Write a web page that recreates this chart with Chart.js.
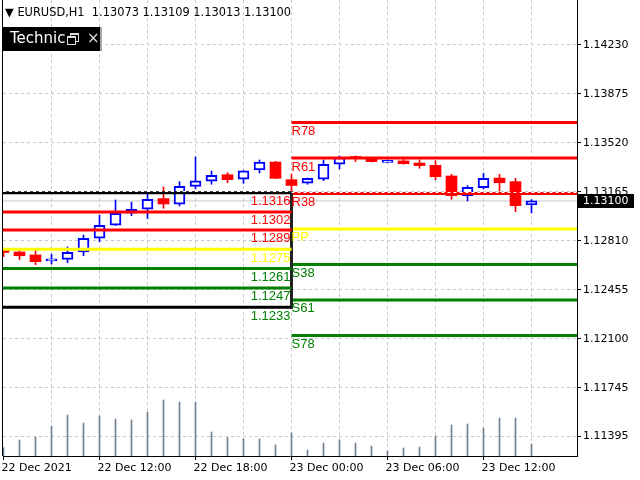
<!DOCTYPE html>
<html>
<head>
<meta charset="utf-8">
<title>EURUSD,H1</title>
<script src="https://cdn.jsdelivr.net/npm/chart.js@4.4.1/dist/chart.umd.min.js"></script>
<style>
  html, body { margin: 0; padding: 0; background: #fff; }
  #wrap { position: relative; width: 640px; height: 480px; overflow: hidden; }
  #chart { position: absolute; left: 0; top: 0; }
  #head { position: absolute; left: 5px; top: 5px; font: 11.4px "DejaVu Sans", sans-serif; color: #000; white-space: pre; line-height: 14px; }
  #tech { position: absolute; left: 3px; top: 27px; width: 97px; height: 24px; background: #000; border-right: 2px solid #a8a8a8; }
  #tech .name { position: absolute; left: 7px; top: 1px; width: 55px; overflow: hidden; white-space: nowrap; color: #fff; font: 15px "DejaVu Sans", sans-serif; line-height: 21px; }
  #tech .sq1 { position: absolute; left: 67px; top: 6px; width: 7px; height: 6px; border: 1px solid #ddd; border-top-width: 2px; }
  #tech .sq2 { position: absolute; left: 64px; top: 9px; width: 7px; height: 6px; border: 1px solid #ddd; border-top-width: 2px; background: #000; }
  #tech .close { position: absolute; left: 84px; top: 1px; color: #ddd; font: 15px "DejaVu Sans", sans-serif; line-height: 21px; }
</style>
</head>
<body>
<div id="wrap">
  <canvas id="chart" width="640" height="480"></canvas>
  <div id="head">▼ EURUSD,H1  1.13073 1.13109 1.13013 1.13100</div>
  <div id="tech"><span class="name">Technical Indicators</span><span class="sq1"></span><span class="sq2"></span><span class="close">×</span></div>
</div>
<script>
// H1 bars, 22 Dec 06:00 .. 23 Dec 15:00
const opens  = [1.12749, 1.12730, 1.12709, 1.12666, 1.12677, 1.12730, 1.12830, 1.12924, 1.13011, 1.13040, 1.13117, 1.13076,
                1.13206, 1.13243, 1.13290, 1.13257, 1.13324, 1.13382, 1.13254, 1.13228, 1.13257, 1.13366, 1.13419, 1.13402,
                1.13380, 1.13390, 1.13375, 1.13358, 1.13281, 1.13138, 1.13196, 1.13266, 1.13240, 1.13073];
const highs  = [1.12759, 1.12743, 1.12745, 1.12714, 1.12767, 1.12853, 1.12998, 1.13107, 1.13091, 1.13154, 1.13201, 1.13240,
                1.13419, 1.13317, 1.13305, 1.13321, 1.13397, 1.13386, 1.13295, 1.13266, 1.13397, 1.13426, 1.13426, 1.13415,
                1.13397, 1.13404, 1.13397, 1.13392, 1.13293, 1.13211, 1.13300, 1.13293, 1.13264, 1.13109];
const lows   = [1.12696, 1.12675, 1.12638, 1.12643, 1.12653, 1.12703, 1.12805, 1.12922, 1.12993, 1.12972, 1.13047, 1.13064,
                1.13187, 1.13221, 1.13232, 1.13228, 1.13303, 1.13262, 1.13150, 1.13221, 1.13247, 1.13332, 1.13385, 1.13382,
                1.13379, 1.13366, 1.13337, 1.13254, 1.13112, 1.13100, 1.13187, 1.13172, 1.13022, 1.13013];
const closes = [1.12727, 1.12703, 1.12660, 1.12668, 1.12728, 1.12830, 1.12924, 1.13011, 1.13040, 1.13112, 1.13078, 1.13206,
                1.13245, 1.13286, 1.13254, 1.13319, 1.13382, 1.13264, 1.13212, 1.13264, 1.13366, 1.13414, 1.13407, 1.13385,
                1.13392, 1.13370, 1.13356, 1.13276, 1.13138, 1.13199, 1.13264, 1.13232, 1.13066, 1.13100];
const volumes = [210, 400, 475, 750, 1025, 825, 1000, 925, 900, 1100, 1400, 1350, 1350, 600, 460, 430, 430, 275,
                 575, 150, 325, 400, 325, 250, 125, 200, 225, 500, 775, 800, 700, 950, 950, 300];

const timeLabels = ['22 Dec 2021', '22 Dec 12:00', '22 Dec 18:00', '23 Dec 00:00', '23 Dec 06:00', '23 Dec 12:00'];
const timeLabelBars = [0, 6, 12, 18, 24, 30];
const gridBars = [0, 3, 6, 9, 12, 15, 18, 21, 24, 27, 30, 33];
const priceTicks = [1.14230, 1.13875, 1.13520, 1.13165, 1.12810, 1.12455, 1.12100, 1.11745, 1.11395];

// previous day levels (left box) and today's pivot levels
const prevLevels = [1.1316, 1.1302, 1.1289, 1.1275, 1.1261, 1.1247, 1.1233];
const pivotNames = ['R78', 'R61', 'R38', 'PP', 'S38', 'S61', 'S78'];
const pivotLevels = [1.13669, 1.13411, 1.13154, 1.12897, 1.12640, 1.12383, 1.12125];
const dayStartBar = 18;
const bid = 1.13100;

const RED = '#ff0000', YEL = '#ffff00', GRN = '#008000', BLK = '#000000';
const prevLineColors = [BLK, RED, RED, YEL, GRN, GRN, BLK];
const prevTextColors = [RED, RED, RED, YEL, GRN, GRN, GRN];
const pivotColors = [RED, RED, RED, YEL, GRN, GRN, GRN];

const xMin = -0.03125, xMax = 35.84375;
const yMin = 1.11252, yMax = 1.14556;
const font = { family: 'DejaVu Sans', size: 11 };
const bars = opens.map((o, i) => i);
const up = bars.map(i => closes[i] >= opens[i]);

const datasets = [];
prevLevels.forEach((v, i) => datasets.push({
  type: 'line', data: [{ x: xMin, y: v }, { x: dayStartBar, y: v }],
  borderColor: prevLineColors[i], borderWidth: 3, pointRadius: 0, order: 0
}));
datasets.push({
  type: 'line', data: [{ x: dayStartBar, y: prevLevels[0] }, { x: dayStartBar, y: prevLevels[prevLevels.length - 1] }],
  borderColor: '#222', borderWidth: 3, pointRadius: 0, borderCapStyle: 'square', order: 0
});
pivotLevels.forEach((v, i) => datasets.push({
  type: 'line', data: [{ x: dayStartBar, y: v }, { x: xMax, y: v }],
  borderColor: pivotColors[i], borderWidth: 3, pointRadius: 0, order: 0
}));
datasets.push({
  type: 'bar', data: bars.map(i => ({ x: i, y: [opens[i], closes[i]] })),
  backgroundColor: up.map(u => u ? '#ffffff' : RED),
  borderColor: up.map(u => u ? '#0000ff' : RED),
  borderWidth: up.map(u => u ? 2 : 0),
  borderSkipped: false, barThickness: 11, minBarLength: 2, grouped: false, order: 1
});
datasets.push({
  type: 'bar', data: bars.map(i => ({ x: i, y: [lows[i], highs[i]] })),
  backgroundColor: up.map(u => u ? '#0000ff' : RED),
  barThickness: 1, grouped: false, order: 2
});
datasets.push({
  type: 'line', data: [{ x: xMin, y: bid }, { x: xMax, y: bid }],
  borderColor: '#c8c8c8', borderWidth: 1, pointRadius: 0, order: 3
});
datasets.push({
  type: 'bar', yAxisID: 'yv', data: bars.map(i => ({ x: i, y: volumes[i] })),
  backgroundColor: '#708090', barThickness: 1, grouped: false, order: 4
});

const overlay = {
  id: 'overlay',
  afterDatasetsDraw(chart) {
    const { ctx, chartArea: a, scales: { x, y } } = chart;
    const xs = x.getPixelForValue(dayStartBar);
    ctx.save();
    // white dashes along the top edge of the dotted levels
    ctx.strokeStyle = '#ffffff';
    ctx.lineWidth = 1;
    ctx.setLineDash([3, 3]);
    [[a.left, xs, prevLevels[0]], [xs, a.right, pivotLevels[2]]].forEach(([x0, x1, v]) => {
      const py = Math.round(y.getPixelForValue(v) - 1.5) + 0.5;
      ctx.beginPath(); ctx.moveTo(x0, py); ctx.lineTo(x1, py); ctx.stroke();
    });
    ctx.setLineDash([]);
    ctx.font = '13px "Liberation Sans"';
    ctx.textBaseline = 'alphabetic';
    ctx.textAlign = 'right';
    prevLevels.forEach((v, i) => {
      ctx.fillStyle = prevTextColors[i];
      ctx.fillText(v.toFixed(4), xs - 1, y.getPixelForValue(v) + 12.5);
    });
    ctx.textAlign = 'left';
    pivotLevels.forEach((v, i) => {
      ctx.fillStyle = pivotColors[i];
      ctx.fillText(pivotNames[i], xs, y.getPixelForValue(v) + 12.5);
    });
    ctx.restore();
  },
  afterDraw(chart) {
    const { ctx, chartArea: a, scales: { y } } = chart;
    ctx.save();
    ctx.strokeStyle = '#000';
    ctx.lineWidth = 1;
    ctx.beginPath(); ctx.moveTo(a.left - 0.5, 0); ctx.lineTo(a.left - 0.5, a.bottom); ctx.stroke();
    const py = Math.round(y.getPixelForValue(bid));
    ctx.fillStyle = '#000';
    ctx.fillRect(a.right, py - 7, 57, 14);
    ctx.fillStyle = '#fff';
    ctx.font = '11px "DejaVu Sans"';
    ctx.textBaseline = 'middle';
    ctx.textAlign = 'left';
    ctx.fillText(bid.toFixed(5), a.right + 6, py);
    ctx.restore();
  }
};

new Chart(document.getElementById('chart'), {
  type: 'bar',
  data: { datasets: datasets },
  options: {
    responsive: false,
    animation: false,
    layout: { padding: { left: 3, top: 0, right: 0, bottom: 0 } },
    plugins: { legend: { display: false }, tooltip: { enabled: false } },
    scales: {
      x: {
        type: 'linear', min: xMin, max: xMax, offset: false,
        afterBuildTicks: s => { s.ticks = gridBars.map(v => ({ value: v })); },
        afterFit: s => { s.height = 24; s.paddingLeft = 0; s.paddingRight = 0; },
        ticks: {
          autoSkip: false, maxRotation: 0, align: 'start', padding: 2, labelOffset: -2,
          font: font, color: '#000',
          callback: v => { const k = timeLabelBars.indexOf(v); return k < 0 ? '' : timeLabels[k]; }
        },
        grid: {
          offset: false, tickLength: 4,
          color: c => c.tick && c.tick.value === 0 ? 'rgba(0,0,0,0)' : '#c8c8c8',
          tickColor: c => c.tick && timeLabelBars.includes(c.tick.value) ? '#000' : 'rgba(0,0,0,0)'
        },
        border: { color: '#000', width: 1, dash: [3, 3] }
      },
      y: {
        position: 'right', min: yMin, max: yMax,
        afterBuildTicks: s => { s.ticks = priceTicks.map(v => ({ value: v })); },
        afterFit: s => { s.width = 63; s.paddingTop = 0; s.paddingBottom = 0; },
        ticks: { font: font, color: '#000', padding: 2, callback: v => v.toFixed(5) },
        grid: { color: '#c8c8c8', tickColor: '#000', tickLength: 4 },
        border: { color: '#000', width: 1, dash: [3, 3] }
      },
      yv: { display: false, min: 0, max: 11400 }
    }
  },
  plugins: [overlay]
});
</script>
</body>
</html>
